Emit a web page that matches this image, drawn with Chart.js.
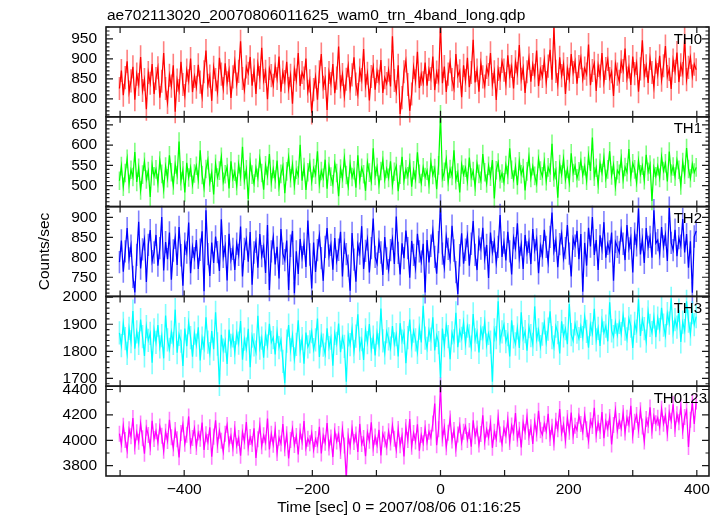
<!DOCTYPE html>
<html>
<head>
<meta charset="utf-8">
<script src="https://cdn.jsdelivr.net/npm/chart.js@4.4.1/dist/chart.umd.min.js"></script>
<style>
  html, body { margin: 0; padding: 0; background: #fff; }
  #wrap { width: 722px; height: 516px; }
</style>
</head>
<body>
<div id="wrap"><canvas id="lc"></canvas></div>
<script>
'use strict';

const TITLE   = 'ae702113020_20070806011625_wam0_trn_4band_long.qdp';
const X_LABEL = 'Time [sec] 0 = 2007/08/06 01:16:25';
const Y_LABEL = 'Counts/sec';
const BANDS   = ['TH0', 'TH1', 'TH2', 'TH3', 'TH0123'];

// time bins (sec from trigger), one value every T_STEP
const T_START = -501, T_STEP = 3;
const X_MIN = -522, X_MAX = 419;
const X_TICKS = [-400, -200, 0, 200, 400];
const X_MINOR = [-500, -400, -300, -200, -100, 0, 100, 200, 300, 400];

const TH0 = [
  826, 871, 809, 853, 894, 817, 845, 880, 798, 862, 836, 905, 821, 848, 774, 866, 839, 887, 812, 851,
  878, 803, 844, 915, 826, 791, 859, 832, 884, 768, 847, 821, 893, 836, 808, 872, 845, 901, 817, 856,
  829, 885, 842, 806, 868, 921, 834, 857, 795, 879, 848, 817, 903, 862, 826, 889, 840, 871, 802, 855,
  893, 837, 869, 944, 851, 822, 880, 864, 905, 833, 872, 812, 887, 853, 928, 846, 869, 799, 876, 858,
  834, 882, 851, 906, 818, 867, 843, 893, 826, 859, 788, 874, 847, 915, 832, 866, 852, 901, 819, 845,
  765, 823, 855, 798, 868, 912, 829, 851, 772, 866, 838, 887, 814, 852, 931, 830, 861, 807, 849, 883,
  826, 860, 904, 837, 811, 872, 848, 925, 833, 864, 796, 856, 881, 823, 869, 844, 897, 815, 853, 838,
  872, 831, 957, 846, 818, 884, 762, 803, 868, 895, 836, 770, 812, 879, 845, 918, 827, 862, 840, 891,
  833, 874, 851, 906, 822, 867, 845, 990, 839, 881, 817, 862, 893, 848, 826, 912, 857, 870, 804, 884,
  846, 903, 829, 866, 948, 841, 872, 818, 889, 855, 832, 879, 861, 915, 836, 868, 797, 874, 851, 894,
  872, 838, 909, 857, 881, 826, 893, 864, 935, 849, 877, 815, 868, 902, 843, 886, 859, 921, 832, 875,
  856, 897, 841, 882, 923, 848, 978, 869, 836, 904, 858, 887, 812, 876, 849, 912, 866, 893, 838, 881,
  903, 849, 877, 862, 936, 834, 871, 889, 820, 884, 857, 915, 842, 876, 899, 851, 868, 807, 887, 862,
  844, 893, 871, 926, 852, 880, 835, 906, 863, 889, 818, 875, 947, 858, 883, 840, 901, 866, 829, 892,
  861, 908, 847, 883, 932, 856, 874, 825, 897, 869, 916, 842, 885, 863, 951, 848, 879, 904, 857, 887,
  873
];
const TH1 = [
  512, 548, 497, 531, 566, 504, 539, 521, 583, 509, 544, 488, 527, 559, 515, 536, 472, 551, 523, 540,
  506, 562, 529, 491, 547, 518, 575, 533, 500, 552, 526, 609, 511, 538, 483, 556, 520, 545, 502, 530,
  549, 515, 587, 526, 494, 541, 563, 507, 532, 478, 554, 520, 537, 571, 509, 528, 546, 493, 560, 517,
  534, 499, 553, 522, 596, 513, 540, 466, 558, 527, 505, 544, 519, 567, 531, 490, 550, 524, 578, 508,
  541, 515, 562, 497, 529, 548, 481, 535, 570, 518, 552, 500, 539, 525, 601, 512, 546, 489, 533, 557,
  510, 543, 527, 585, 504, 536, 519, 564, 492, 548, 522, 503, 555, 531, 474, 542, 517, 568, 526, 498,
  553, 521, 538, 495, 575, 513, 544, 528, 487, 557, 532, 510, 592, 524, 546, 502, 536, 563, 515, 541,
  519, 560, 501, 534, 548, 486, 527, 571, 512, 540, 523, 556, 497, 538, 515, 582, 529, 506, 545, 521,
  537, 503, 558, 526, 543, 491, 550, 676, 518, 534, 565, 509, 541, 524, 587, 513, 532, 483, 552, 527,
  544, 511, 569, 520, 536, 497, 554, 529, 512, 578, 533, 505, 549, 522, 563, 468, 538, 557, 516, 530,
  508, 551, 526, 592, 539, 515, 547, 501, 560, 528, 543, 488, 535, 571, 519, 548, 524, 505, 566, 537,
  523, 559, 511, 545, 532, 603, 520, 538, 470, 553, 527, 566, 514, 541, 507, 580, 531, 549, 518, 535,
  561, 526, 548, 512, 574, 536, 619, 522, 544, 503, 556, 531, 569, 517, 540, 585, 525, 551, 498, 538,
  529, 567, 515, 546, 533, 590, 521, 555, 540, 507, 562, 528, 549, 513, 576, 534, 552, 462, 544, 523,
  548, 519, 571, 536, 555, 510, 584, 530, 547, 522, 563, 539, 500, 558, 527, 593, 541, 518, 553, 532,
  545
];
const TH2 = [
  788, 842, 764, 815, 873, 797, 829, 751, 712, 806, 889, 772, 820, 845, 738, 831, 868, 790, 812, 856,
  779, 823, 901, 767, 838, 795, 862, 744, 817, 849, 781, 876, 805, 729, 834, 812, 887, 760, 826, 798,
  843, 771, 819, 865, 715, 918, 808, 753, 837, 786, 852, 813, 766, 895, 801, 828, 742, 859, 795, 821,
  768, 834, 806, 877, 752, 821, 845, 789, 863, 731, 812, 839, 774, 858, 803, 827, 761, 881, 718, 815,
  850, 782, 826, 747, 871, 809, 793, 842, 718, 829, 866, 710, 815, 758, 846, 800, 834, 776, 892, 807,
  722, 837, 763, 818, 855, 798, 741, 826, 873, 804, 831, 769, 848, 791, 819, 864, 752, 836, 808, 779,
  716, 861, 794, 739, 832, 809, 878, 771, 816, 845, 762, 823, 897, 801, 784, 839, 812, 756, 851, 797,
  768, 818, 846, 783, 902, 811, 757, 835, 798, 867, 823, 749, 841, 806, 773, 859, 815, 789, 834, 712,
  843, 787, 829, 866, 801, 759, 838, 930, 809, 775, 852, 821, 794, 879, 817, 763, 708, 805, 860, 784,
  819, 853, 779, 834, 891, 806, 768, 845, 822, 874, 797, 831, 748, 862, 813, 840, 786, 826, 906, 801,
  837, 792, 864, 815, 757, 848, 823, 885, 799, 832, 771, 856, 812, 839, 783, 871, 818, 845, 760, 828,
  804, 869, 826, 788, 851, 912, 816, 842, 775, 833, 860, 797, 823, 881, 809, 752, 847, 829, 866, 795,
  858, 714, 836, 779, 874, 827, 901, 806, 843, 768, 855, 821, 888, 799, 834, 815, 862, 741, 839, 826,
  812, 867, 834, 793, 881, 822, 848, 762, 859, 830, 922, 807, 845, 786, 873, 826, 851, 799, 918, 835,
  843, 808, 876, 827, 857, 791, 924, 836, 818, 869, 803, 848, 829, 896, 812, 858, 774, 840, 711, 852,
  866
];
const TH3 = [
  1868, 1821, 1903, 1847, 1792, 1885, 1836, 1949, 1810, 1872, 1829, 1917, 1854, 1783, 1891, 1840, 1866, 1758, 1879, 1833,
  1897, 1816, 1858, 1774, 1932, 1842, 1807, 1871, 1829, 1954, 1795, 1863, 1838, 1746, 1884, 1819, 1906, 1851, 1780, 1867,
  1823, 1889, 1766, 1849, 1812, 1926, 1834, 1791, 1875, 1808, 1944, 1827, 1678, 1861, 1804, 1838, 1753, 1880, 1822, 1857,
  1795, 1868, 1830, 1912, 1769, 1845, 1808, 1883, 1741, 1856, 1824, 1797, 1931, 1812, 1849, 1776, 1864, 1819, 1902, 1833,
  1851, 1788, 1873, 1814, 1842, 1763, 1682, 1838, 1897, 1805, 1859, 1772, 1826, 1915, 1801, 1847, 1754, 1869, 1816, 1835,
  1873, 1806, 1842, 1921, 1779, 1858, 1823, 1790, 1885, 1814, 1849, 1747, 1866, 1829, 1903, 1797, 1852, 1818, 1688, 1861,
  1825, 1884, 1799, 1856, 1937, 1811, 1843, 1768, 1879, 1832, 1901, 1807, 1852, 1785, 1868, 1824, 1958, 1839, 1794, 1873,
  1846, 1812, 1893, 1827, 1862, 1781, 1904, 1838, 1869, 1756, 1851, 1917, 1820, 1875, 1842, 1796, 1886, 1833, 1968, 1849,
  1811, 1878, 1845, 1926, 1803, 1859, 1832, 1702, 1884, 1821, 1897, 1854, 1771, 1868, 1839, 1942, 1815, 1876, 1848, 1907,
  1829, 1893, 1857, 1815, 1938, 1842, 1871, 1796, 1884, 1850, 1909, 1823, 1866, 1834, 1688, 1879, 1851, 1985, 1838, 1872,
  1898, 1836, 1862, 1781, 1915, 1853, 1827, 1887, 1812, 1944, 1848, 1873, 1802, 1891, 1858, 1826, 1966, 1844, 1879, 1817,
  1864, 1905, 1833, 1882, 1948, 1851, 1816, 1893, 1869, 1792, 1911, 1857, 1884, 1826, 1975, 1862, 1839, 1901, 1871, 1847,
  1892, 1851, 1928, 1874, 1813, 1899, 1866, 1957, 1842, 1885, 1820, 1913, 1868, 1893, 1837, 1981, 1876, 1854, 1908, 1861,
  1907, 1865, 1934, 1882, 1846, 1921, 1893, 1812, 1903, 1875, 1992, 1857, 1918, 1884, 1838, 1946, 1896, 1869, 1927, 1852,
  1923, 1880, 1961, 1897, 1858, 1939, 1904, 1996, 1871, 1917, 1889, 1952, 1835, 1908, 1876, 1985, 1912, 1864, 1943, 1899,
  1928
];
const TH0123 = [
  4052, 3968, 4115, 4003, 3921, 4087, 4031, 4176, 3952, 4064, 3989, 4132, 4017, 3894, 4098, 4041, 3946, 4153, 4010, 4072,
  3983, 4109, 4036, 3917, 4068, 3995, 4162, 4024, 3938, 4081, 4009, 3866, 4057, 4127, 3972, 4043, 4188, 3956, 4019, 4094,
  3948, 4061, 4012, 4139, 3925, 4047, 3986, 4103, 3871, 4029, 4158, 3964, 4076, 3997, 3910, 4052, 4121, 3969, 4035, 3938,
  4089, 3957, 4018, 3879, 4064, 3992, 4143, 3943, 4026, 3971, 4095, 3862, 4008, 4117, 3954, 4039, 3983, 4172, 3928, 4051,
  3966, 4083, 3901, 4020, 3974, 4128, 3937, 4047, 3858, 4002, 4091, 3963, 4034, 3889, 4069, 3988, 4151, 3941, 4012, 3976,
  4058, 3925, 4011, 3962, 4106, 3897, 4037, 3981, 4135, 3944, 4023, 3868, 4072, 3990, 4049, 3916, 4087, 3959, 3702, 4031,
  3951, 4094, 3987, 4046, 3908, 4129, 3970, 4018, 3875, 4063, 3996, 4142, 3939, 4029, 3962, 4083, 3881, 4051, 4007, 3946,
  4071, 3983, 4118, 4012, 3924, 4089, 3961, 4036, 3872, 4104, 4003, 4167, 3949, 4058, 3991, 4126, 3918, 4042, 3977, 4095,
  3984, 4068, 4021, 4133, 4290, 3962, 4087, 4435, 4015, 4104, 3946, 4059, 4172, 3998, 4081, 3933, 4046, 4119, 3985, 4067,
  4112, 4003, 4074, 3949, 4158, 4031, 4093, 3967, 4049, 4196, 3988, 4086, 4022, 4135, 3941, 4067, 4010, 4179, 4045, 3972,
  4095, 4038, 4162, 3986, 4117, 4059, 4214, 4012, 4083, 3944, 4139, 4067, 4185, 4026, 4102, 3971, 4148, 4054, 4232, 4079,
  4043, 4131, 4072, 4208, 4019, 4106, 3982, 4153, 4087, 4247, 4055, 4124, 3998, 4176, 4068, 4219, 4034, 4115, 4081, 4193,
  4129, 4064, 4201, 4088, 3996, 4157, 4112, 4256, 4045, 4138, 4073, 4222, 4016, 4149, 4091, 4184, 3968, 4120, 4238, 4076,
  4152, 4093, 4215, 4061, 4178, 4124, 4271, 4037, 4146, 4199, 4082, 4236, 4109, 3991, 4167, 4118, 4259, 4075, 4191, 4134,
  4177, 4102, 4248, 4131, 4195, 4056, 4219, 4153, 4284, 4089, 4206, 4142, 4265, 4074, 4183, 4233, 3948, 4161, 4295, 4128,
  4305
];
// 1-sigma error per bin, counts/sec
const ERRORS = [29, 23, 28, 43, 63];

const Y_RANGES = [[755, 980], [448, 670], [702, 927], [1671, 2003], [3719, 4426]];
const Y_TICKS = [
  [800, 850, 900, 950],
  [500, 550, 600, 650],
  [750, 800, 850, 900],
  [1700, 1800, 1900, 2000],
  [3800, 4000, 4200, 4400]
];
const Y_MINOR = [10, 10, 10, 20, 100];

const SERIES = [TH0, TH1, TH2, TH3, TH0123];
const COLORS = ['#ff0000', '#00ff00', '#0000ff', '#00ffff', '#ff00ff'];
const ERR_COLORS = ['rgba(255,0,0,0.5)', 'rgba(0,255,0,0.5)', 'rgba(0,0,255,0.5)',
                    'rgba(0,255,255,0.5)', 'rgba(255,0,255,0.5)'];

const FONT = "'Liberation Sans', Arial, Helvetica, sans-serif";
const times = TH0.map((_, i) => T_START + i * T_STEP);

Chart.defaults.font.family = FONT;
Chart.defaults.color = '#000';

// frames, inward ticks, error bars and texts, qdp style
const qdpFrame = {
  id: 'qdpFrame',
  beforeDatasetsDraw(chart) {
    const { ctx, chartArea: a, scales } = chart;
    ctx.save();
    ctx.beginPath();
    ctx.rect(a.left, a.top, a.right - a.left, a.bottom - a.top);
    ctx.clip();
    ctx.lineWidth = 1.6;
    SERIES.forEach((vals, k) => {
      const ys = scales['p' + k];
      ctx.strokeStyle = ERR_COLORS[k];
      ctx.beginPath();
      vals.forEach((v, i) => {
        const px = scales.x.getPixelForValue(times[i]);
        ctx.moveTo(px, ys.getPixelForValue(v + ERRORS[k]));
        ctx.lineTo(px, ys.getPixelForValue(v - ERRORS[k]));
      });
      ctx.stroke();
    });
    ctx.restore();
  },
  afterDraw(chart) {
    const { ctx, chartArea: a, scales } = chart;
    const xs = scales.x;
    ctx.save();
    ctx.strokeStyle = '#1a1a1a';
    ctx.fillStyle = '#000';

    BANDS.forEach((name, k) => {
      const ys = scales['p' + k];
      const top = ys.top, bot = ys.bottom;

      ctx.lineWidth = 1.6;
      ctx.strokeRect(a.left, top, a.right - a.left, bot - top);

      ctx.lineWidth = 1.2;
      ctx.beginPath();
      // x ticks, top and bottom of each panel
      X_MINOR.forEach(t => {
        const px = xs.getPixelForValue(t);
        ctx.moveTo(px, top); ctx.lineTo(px, top + 6);
        ctx.moveTo(px, bot); ctx.lineTo(px, bot - 6);
      });
      // y ticks, left and right
      const [lo, hi] = Y_RANGES[k];
      const step = Y_MINOR[k];
      for (let v = Math.ceil(lo / step) * step; v <= hi; v += step) {
        const py = ys.getPixelForValue(v);
        const len = Y_TICKS[k].includes(v) ? 7 : 3.5;
        ctx.moveTo(a.left, py); ctx.lineTo(a.left + len, py);
        ctx.moveTo(a.right, py); ctx.lineTo(a.right - len, py);
      }
      ctx.stroke();

      ctx.font = '15px ' + FONT;
      ctx.textAlign = 'right';
      ctx.textBaseline = 'alphabetic';
      ctx.fillText(name, k === 4 ? a.right - 2 : a.right - 7, top + 16.5);
    });

    ctx.font = '15.5px ' + FONT;
    ctx.textAlign = 'left';
    ctx.fillText(TITLE, a.left + 1, 20);

    ctx.textAlign = 'center';
    ctx.fillText(X_LABEL, 399, 512);

    ctx.translate(49, (a.top + a.bottom) / 2);
    ctx.rotate(-Math.PI / 2);
    ctx.fillText(Y_LABEL, 0, 0);
    ctx.restore();
  }
};

const scales = {
  x: {
    type: 'linear',
    position: 'bottom',
    min: X_MIN,
    max: X_MAX,
    grid: { display: false, drawTicks: false },
    border: { display: false },
    afterBuildTicks: s => { s.ticks = X_TICKS.map(v => ({ value: v })); },
    afterFit: s => { s.height = 40; },
    ticks: {
      padding: 4,
      maxRotation: 0,
      autoSkip: false,
      font: { size: 15.5 },
      callback: v => (v < 0 ? '\u2212' + (-v) : String(v))
    }
  }
};
// bottom panel first so that TH0 lands on top of the stack
for (let k = SERIES.length - 1; k >= 0; k--) {
  scales['p' + k] = {
    type: 'linear',
    position: 'left',
    stack: 'bands',
    stackWeight: 1,
    min: Y_RANGES[k][0],
    max: Y_RANGES[k][1],
    grid: { display: false, drawTicks: false },
    border: { display: false },
    afterBuildTicks: s => { s.ticks = Y_TICKS[k].map(v => ({ value: v })); },
    afterFit: s => { s.width = 106; },
    ticks: { padding: 9, autoSkip: false, font: { size: 15.5 }, callback: v => String(v) }
  };
}

new Chart(document.getElementById('lc'), {
  type: 'line',
  data: {
    datasets: SERIES.map((vals, k) => ({
      label: BANDS[k],
      yAxisID: 'p' + k,
      data: vals.map((v, i) => ({ x: times[i], y: v })),
      borderColor: COLORS[k],
      borderWidth: 1.25,
      pointRadius: 0,
      tension: 0,
      fill: false
    }))
  },
  options: {
    responsive: true,
    maintainAspectRatio: false,
    animation: false,
    layout: { padding: { left: 0, top: 27, right: 13, bottom: 0 } },
    plugins: { legend: { display: false }, tooltip: { enabled: false } },
    scales
  },
  plugins: [qdpFrame]
});
</script>
</body>
</html>
